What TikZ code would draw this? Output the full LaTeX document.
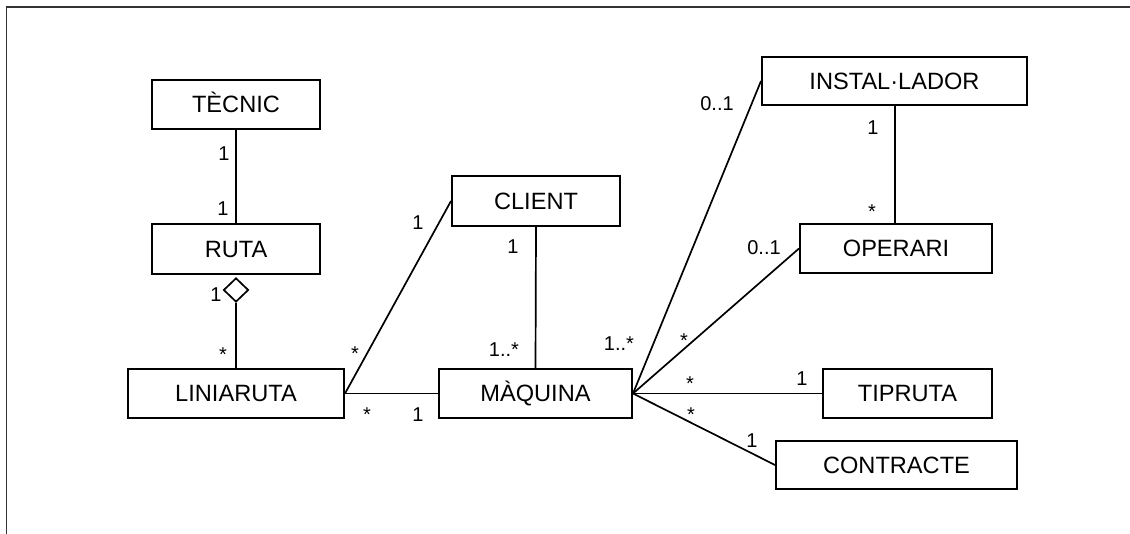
\documentclass[tikz,border=0pt]{standalone}
\usepackage{fontspec}
\setmainfont{Liberation Sans}
\usetikzlibrary{shapes.geometric}

\tikzset{
  classbox/.style={draw, line width=2pt, rectangle, inner sep=0pt,
    font=\fontsize{23.6}{28}\selectfont, text height=17pt, text depth=0pt},
  assoc/.style={line width=1.7pt},
  mult/.style={font=\fontsize{20}{24}\selectfont, inner sep=0pt, anchor=base},
  aggdiamond/.style={draw, line width=1.7pt, diamond, fill=white, inner sep=0pt,
    minimum width=25pt, minimum height=24pt},
  frameline/.style={line width=1.6pt, draw=black!80}
}

\begin{document}
\begin{tikzpicture}[x=1pt, y=-1pt]
  \useasboundingbox (0,0) rectangle (1130,534);

  % outer frame (top and left edges only)
  \draw[frameline] (6.5,534) -- (6.5,7) -- (1130,7);

  % classes
  \node[classbox, minimum width=168pt, minimum height=49pt] (tec) at (236,104.5) {TÈCNIC};
  \node[classbox, minimum width=168pt, minimum height=50pt] (ruta) at (236,249) {RUTA};
  \node[classbox, minimum width=216pt, minimum height=49pt] (lin) at (236,393.5) {LINIARUTA};
  \node[classbox, minimum width=168pt, minimum height=50pt] (cli) at (536,201) {CLIENT};
  \node[classbox, minimum width=193pt, minimum height=49pt] (maq) at (535.5,393.5) {MÀQUINA};
  \node[classbox, minimum width=265pt, minimum height=48pt] (ins) at (894.5,81) {INSTAL·LADOR};
  \node[classbox, minimum width=192pt, minimum height=49pt] (ope) at (896,248.5) {OPERARI};
  \node[classbox, minimum width=169pt, minimum height=49pt] (tip) at (907.5,393.5) {TIPRUTA};
  \node[classbox, minimum width=241pt, minimum height=48pt] (con) at (896.5,465) {CONTRACTE};

  % aggregation diamond under RUTA
  \node[aggdiamond] (agg) at (236,290) {};

  % associations
  \draw[assoc] (tec.south) -- (ruta.north);
  \draw[assoc] (agg.south) -- (lin.north);
  \draw[assoc] (lin.east) -- (cli.west);
  \draw[assoc] (lin.east) -- (maq.west);
  \draw[assoc] (cli.south) -- (maq.north);
  \draw[assoc] (maq.east) -- (ins.west);
  \draw[assoc] (maq.east) -- (ope.west);
  \draw[assoc] (maq.east) -- (tip.west);
  \draw[assoc] (maq.east) -- (con.west);
  \draw[assoc] (ins.south -| 895,0) -- (ope.north -| 895,0);

  % multiplicities
  \node[mult] (m1)  at (224,161) {1};
  \node[mult] (m2)  at (223,216) {1};
  \node[mult] (m3)  at (216,302) {1};
  \node[mult] (m4)  at (223,362) {*};
  \node[mult] (m5)  at (355,361) {*};
  \node[mult] (m6)  at (418,230) {1};
  \node[mult] (m7)  at (367,421) {*};
  \node[mult] (m8)  at (418,422) {1};
  \node[mult] (m9)  at (513,254) {1};
  \node[mult] (m10) at (504,357) {1..*};
  \node[mult] (m11) at (619,351) {1..*};
  \node[mult] (m12) at (717,111) {0..1};
  \node[mult] (m13) at (873,135) {1};
  \node[mult] (m14) at (872,219) {*};
  \node[mult] (m15) at (764,255) {0..1};
  \node[mult] (m16) at (684,348) {*};
  \node[mult] (m17) at (690,391) {*};
  \node[mult] (m18) at (802,386) {1};
  \node[mult] (m19) at (691,422) {*};
  \node[mult] (m20) at (752,447) {1};
\end{tikzpicture}
\end{document}
